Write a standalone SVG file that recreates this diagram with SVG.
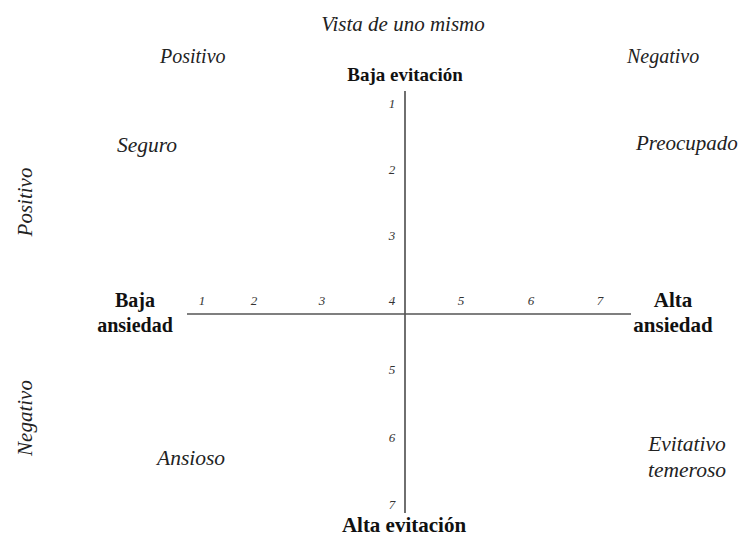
<svg xmlns="http://www.w3.org/2000/svg" width="740" height="537" viewBox="0 0 740 537">
<style>
.it{font-family:"Liberation Serif","Times New Roman",serif;font-style:italic;fill:#222;font-size:21px}
.num{font-family:"Liberation Serif","Times New Roman",serif;font-style:italic;fill:#333;font-size:13px;text-anchor:middle}
.b{font-family:"Liberation Serif","Times New Roman",serif;font-weight:bold;fill:#111;font-size:20px;text-anchor:middle}
.ax{stroke:#222;stroke-width:1.3}
</style>
<rect width="740" height="537" fill="#fff"/>
<g id="connectors">
<line class="ax" x1="405" y1="91" x2="405" y2="513"/>
<line class="ax" x1="187" y1="314" x2="631" y2="314" style="stroke:#555"/>
</g>
<g id="title"><text class="it" x="403" y="31" text-anchor="middle">Vista de uno mismo</text></g>
<g id="pos-top"><text class="it" x="160" y="63" style="font-size:20px">Positivo</text></g>
<g id="neg-top"><text class="it" x="627" y="63" style="font-size:20px">Negativo</text></g>
<g id="pos-left"><text class="it" transform="translate(32,202) rotate(-90)" text-anchor="middle">Positivo</text></g>
<g id="neg-left"><text class="it" transform="translate(32,418) rotate(-90)" text-anchor="middle">Negativo</text></g>
<g id="baja-evitacion"><text class="b" x="405" y="81" style="font-size:19px">Baja evitación</text></g>
<g id="alta-evitacion"><text class="b" x="404" y="532" style="font-size:21px">Alta evitación</text></g>
<g id="baja-ansiedad"><text class="b" x="135" y="307">Baja</text><text class="b" x="135" y="332">ansiedad</text></g>
<g id="alta-ansiedad"><text class="b" x="673" y="307" style="font-size:21px">Alta</text><text class="b" x="673" y="332" style="font-size:21px">ansiedad</text></g>
<g id="seguro"><text class="it" x="117" y="152" style="font-size:21.5px">Seguro</text></g>
<g id="preocupado"><text class="it" x="636" y="150">Preocupado</text></g>
<g id="ansioso"><text class="it" x="157" y="465" style="font-size:21.5px">Ansioso</text></g>
<g id="evitativo"><text class="it" x="687" y="451" text-anchor="middle" style="font-size:21.5px">Evitativo</text><text class="it" x="687" y="477" text-anchor="middle" style="font-size:21.5px">temeroso</text></g>
<g id="scale-v">
<text class="num" x="392" y="108">1</text>
<text class="num" x="392" y="174">2</text>
<text class="num" x="392" y="240">3</text>
<text class="num" x="392" y="305">4</text>
<text class="num" x="392" y="374">5</text>
<text class="num" x="392" y="442">6</text>
<text class="num" x="392" y="509">7</text>
</g>
<g id="scale-h">
<text class="num" x="202" y="305">1</text>
<text class="num" x="254" y="305">2</text>
<text class="num" x="322" y="305">3</text>
<text class="num" x="461" y="305">5</text>
<text class="num" x="531" y="305">6</text>
<text class="num" x="600" y="305">7</text>
</g>
</svg>
